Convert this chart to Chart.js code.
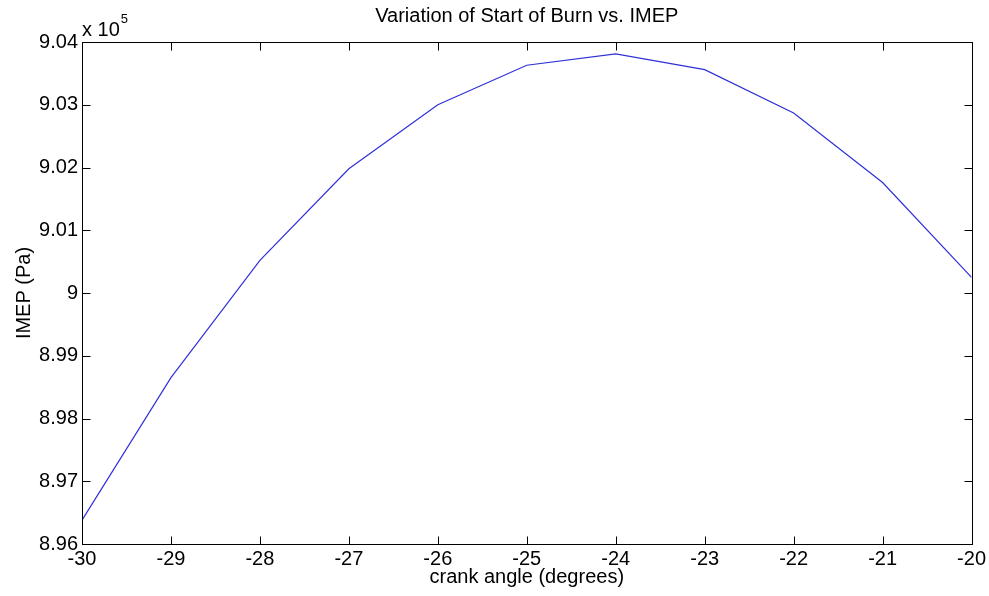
<!DOCTYPE html>
<html>
<head>
<meta charset="utf-8">
<script src="https://cdn.jsdelivr.net/npm/chart.js@4/dist/chart.umd.min.js"></script>
<style>
  html, body { margin: 0; padding: 0; background: #fff; }
  #wrap { width: 989px; height: 596px; position: relative; }
</style>
</head>
<body>
<div id="wrap"><canvas id="c" width="989" height="596"></canvas></div>
<script>
// crank angle (degrees)
const crankAngles = [-30, -29, -28, -27, -26, -25, -24, -23, -22, -21, -20];
// IMEP (Pa)
const imepValues = [896380, 898650, 900520, 901980, 903000, 903630, 903810, 903560, 902870, 901760, 900250];
const xTicks = [-30, -29, -28, -27, -26, -25, -24, -23, -22, -21, -20];
const yTicks = [896000, 897000, 898000, 899000, 900000, 901000, 902000, 903000, 904000];
const chartTitle = 'Variation of Start of Burn vs. IMEP';
const xTitle = 'crank angle (degrees)';
const yTitle = 'IMEP (Pa)';
const exponentText = '5';

const FONT = 'Liberation Sans, Arial, Helvetica, sans-serif';

const framePlugin = {
  id: 'frame',
  afterDraw(chart) {
    const {ctx, chartArea: a, scales} = chart;
    ctx.save();
    ctx.strokeStyle = '#000';
    ctx.lineWidth = 1;
    const L = Math.round(a.left) + 0.5, R = Math.round(a.right) + 0.5;
    const T = Math.round(a.top) + 0.5, B = Math.round(a.bottom) + 0.5;
    ctx.strokeRect(L, T, R - L, B - T);
    const tl = 8;
    ctx.beginPath();
    scales.x.ticks.forEach((t, i) => {
      const px = Math.round(scales.x.getPixelForTick(i)) + 0.5;
      ctx.moveTo(px, B); ctx.lineTo(px, B - tl);
      ctx.moveTo(px, T); ctx.lineTo(px, T + tl);
    });
    scales.y.ticks.forEach((t, i) => {
      const py = Math.round(scales.y.getPixelForTick(i)) + 0.5;
      ctx.moveTo(L, py); ctx.lineTo(L + tl, py);
      ctx.moveTo(R, py); ctx.lineTo(R - tl, py);
    });
    ctx.stroke();
    // title
    ctx.fillStyle = '#000';
    ctx.font = '20px ' + FONT;
    ctx.textAlign = 'center';
    ctx.textBaseline = 'middle';
    ctx.fillText(chartTitle, (a.left + a.right) / 2, 16);
    // exponent
    ctx.textAlign = 'left';
    ctx.textBaseline = 'alphabetic';
    ctx.font = '20px ' + FONT;
    const base = 'x 10';
    ctx.fillText(base, a.left, 36);
    const w = ctx.measureText(base).width;
    ctx.font = '13px ' + FONT;
    ctx.fillText(exponentText, a.left + w + 1, 23);
    ctx.restore();
  }
};

new Chart(document.getElementById('c'), {
  type: 'line',
  data: {
    datasets: [{
      data: crankAngles.map((x, i) => ({x, y: imepValues[i]})),
      borderColor: '#3030d8',
      borderWidth: 1.2,
      pointRadius: 0,
      tension: 0,
      fill: false
    }]
  },
  options: {
    responsive: false,
    animation: false,
    devicePixelRatio: 1,
    layout: { padding: { top: 42, right: 15, bottom: 0, left: 0 } },
    plugins: { legend: { display: false }, tooltip: { enabled: false }, title: { display: false } },
    scales: {
      x: {
        type: 'linear',
        min: -30, max: -20,
        afterBuildTicks(s) { s.ticks = xTicks.map(v => ({value: v})); },
        afterFit(s) { s.height = 52; },
        grid: { display: false, drawTicks: false, tickLength: 0 },
        border: { display: false },
        ticks: {
          color: '#000',
          font: { family: FONT, size: 20 },
          padding: 3,
          maxRotation: 0,
          autoSkip: false,
          callback: v => String(v)
        },
        title: {
          display: true, text: xTitle, color: '#000',
          font: { family: FONT, size: 20 },
          padding: { top: 0, bottom: 7 }
        }
      },
      y: {
        type: 'linear',
        min: 896000, max: 904000,
        afterBuildTicks(s) { s.ticks = yTicks.map(v => ({value: v})); },
        afterFit(s) { s.width = 82; },
        grid: { display: false, drawTicks: false, tickLength: 0 },
        border: { display: false },
        ticks: {
          color: '#000',
          font: { family: FONT, size: 20 },
          padding: 4,
          autoSkip: false,
          callback: v => String(parseFloat((v / 1e5).toFixed(2)))
        },
        title: {
          display: true, text: yTitle, color: '#000',
          font: { family: FONT, size: 20 },
          padding: { top: 12, bottom: 0 }
        }
      }
    }
  },
  plugins: [framePlugin]
});
</script>
</body>
</html>
